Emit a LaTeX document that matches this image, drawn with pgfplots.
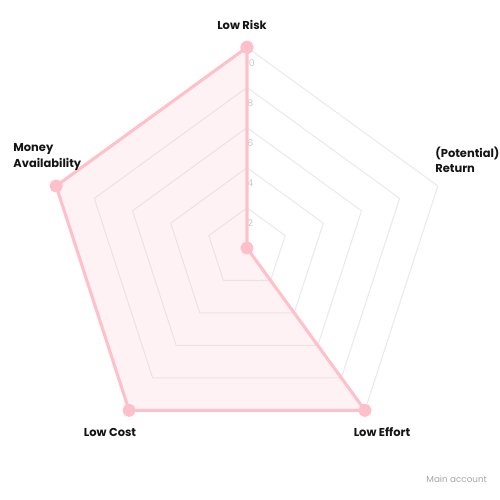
\documentclass[border=0pt]{standalone}
\usepackage{pgfplots}
\pgfplotsset{compat=1.18}
\usepgfplotslibrary{polar}
\usepackage{fontspec}
\setmainfont{Poppins}
\definecolor{radarline}{RGB}{255,192,203}
\definecolor{ringgray}{RGB}{234,234,234}
\definecolor{ticktext}{RGB}{200,200,200}
\definecolor{labeltext}{RGB}{20,20,20}
\begin{document}
\begin{tikzpicture}
\useasboundingbox (0,0) rectangle (375pt,375pt);
\begin{polaraxis}[
  at={(185.25pt,189pt)}, anchor=center,
  scale only axis, width=301pt, height=301pt,
  hide axis, clip=false,
  xmin=0, xmax=360, ymin=0, ymax=10,
]
% pentagon rings
\foreach \r in {2,4,6,8,10} {
  \edef\temp{\noexpand\addplot[ringgray, line width=0.8pt, line join=round, forget plot]
    coordinates {(90,\r) (18,\r) (306,\r) (234,\r) (162,\r) (90,\r)};}
  \temp
}
% ring tick labels
\foreach \r in {2,4,6,8,10} {
  \edef\temp{\noexpand\node[font=\noexpand\fontsize{7}{8}\noexpand\selectfont, text=ticktext, xshift=2.5pt, yshift=-11.5pt] at (axis cs:90,\r) {\r};}
  \temp
}
% data: Low Risk, (Potential) Return, Low Effort, Low Cost, Money Availability
\addplot[draw=radarline, line width=2.3pt, line join=round,
  fill=radarline, fill opacity=0.2, draw opacity=1,
  mark=*, mark size=3.8pt, mark options={fill=radarline, draw=radarline, fill opacity=1}]
  coordinates {(90,10) (18,0) (306,10) (234,10) (162,10) (90,10)};
\end{polaraxis}
\begin{scope}[font=\bfseries\fontsize{8.6}{11.5}\selectfont, text=labeltext]
\node at (181.5pt,356.25pt) {Low Risk};
\node[anchor=west, align=left] at (6.5pt,257.25pt) {Money\\Availability};
\node[anchor=west, align=left] at (323pt,255pt) {(Potential)\\Return};
\node at (82.5pt,51pt) {Low Cost};
\node at (286.5pt,51pt) {Low Effort};
\end{scope}
\node[font=\fontsize{6.6}{8}\selectfont, text=gray!70] at (342.5pt,15.75pt) {Main account};
\end{tikzpicture}
\end{document}
